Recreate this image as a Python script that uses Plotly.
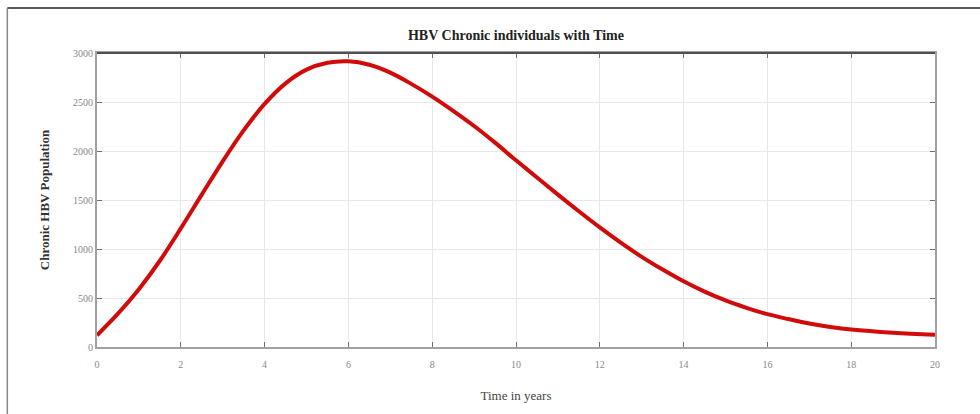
import plotly.graph_objects as go

# Data
time_years = [0, 0.5, 1, 1.5, 2, 2.5, 3, 3.5, 4, 4.5, 5, 5.5, 6, 6.5, 7, 7.5, 8, 8.5, 9, 9.5,
              10, 10.5, 11, 11.5, 12, 12.5, 13, 13.5, 14, 14.5, 15, 15.5, 16, 16.5, 17, 17.5,
              18, 19, 20]
chronic_pop = [120, 340, 590, 880, 1210, 1555, 1895, 2210, 2480, 2690, 2830, 2900, 2915, 2880,
               2800, 2685, 2555, 2410, 2255, 2085, 1905, 1730, 1555, 1385, 1220, 1065, 920, 790,
               670, 565, 475, 400, 335, 285, 240, 205, 178, 145, 125]
x_ticks = [0, 2, 4, 6, 8, 10, 12, 14, 16, 18, 20]
y_ticks = [0, 500, 1000, 1500, 2000, 2500, 3000]

serif = "Liberation Serif, Times New Roman, serif"

fig = go.Figure()
fig.add_trace(go.Scatter(
    x=time_years, y=chronic_pop, mode="lines",
    line=dict(color="#d10a0a", width=4, shape="spline", smoothing=1.0),
    showlegend=False,
))

fig.update_layout(
    width=980, height=414,
    margin=dict(l=97, r=45, t=53, b=67),
    paper_bgcolor="white", plot_bgcolor="white",
    title=dict(text="<b>HBV Chronic individuals with Time</b>", x=0.5265, xanchor="center",
               y=0.915, yanchor="middle",
               font=dict(family=serif, size=14, color="#222222")),
    font=dict(family=serif),
)

fig.update_xaxes(
    range=[0, 20], tickvals=x_ticks, ticktext=[str(v) for v in x_ticks],
    showgrid=True, gridcolor="#e8e8e8", gridwidth=1, zeroline=False,
    showline=True, linecolor="#a0a0a0", linewidth=2, mirror="ticks",
    ticks="inside", ticklen=5, tickcolor="#707070", ticklabelstandoff=7,
    tickfont=dict(family=serif, size=10, color="#888888"),
    title=dict(text="Time in years", standoff=22,
               font=dict(family=serif, size=13, color="#444444")),
)
fig.update_yaxes(
    range=[0, 3000], tickvals=y_ticks, ticktext=[str(v) for v in y_ticks],
    showgrid=True, gridcolor="#e8e8e8", gridwidth=1, zeroline=False,
    showline=True, linecolor="#a0a0a0", linewidth=2, mirror="ticks",
    ticks="inside", ticklen=5, tickcolor="#707070",
    tickfont=dict(family=serif, size=10, color="#888888"),
    title=dict(text="<b>Chronic HBV Population</b>", standoff=20,
               font=dict(family=serif, size=13, color="#333333")),
)

# Darker top border of the axes box
fig.add_shape(type="line", xref="paper", yref="paper", x0=0, x1=1, y0=1, y1=1,
              line=dict(color="#505050", width=2))
# Outer frame of the figure (top and left)
fig.add_shape(type="line", xref="paper", yref="paper", x0=-0.107, x1=1.06, y0=1.153, y1=1.153,
              line=dict(color="#222222", width=1.5))
fig.add_shape(type="line", xref="paper", yref="paper", x0=-0.107, x1=-0.107, y0=1.153, y1=-0.23,
              line=dict(color="#888888", width=1.5))

fig.write_html("out.html")
